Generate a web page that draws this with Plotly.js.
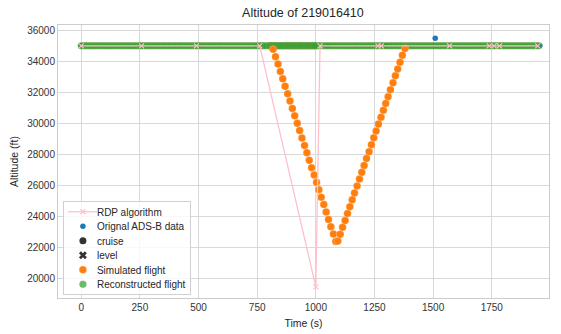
<!DOCTYPE html>
<html>
<head>
<meta charset="utf-8">
<script src="https://cdn.plot.ly/plotly-3.0.1.min.js"></script>
<style>html,body{margin:0;padding:0;background:#fff;}#chart{width:561px;height:334px;}</style>
</head>
<body>
<div id="chart"></div>
<script>
// ---- Data ----
const rdpTime = [0, 257, 491, 761, 1000, 1018, 1265, 1279, 1570, 1739, 1760, 1783, 1946];
const rdpAlt  = [35000, 35000, 35000, 35000, 19450, 35000, 35000, 35000, 35000, 35000, 35000, 35000, 35000];

const adsbTime = [0, 250, 500, 750, 1050, 1300, 1509, 1750, 1955];
const adsbAlt  = [35000, 35000, 35000, 35000, 35000, 35000, 35480, 35000, 35000];

const simTime = [818, 828, 839, 849, 859, 869, 880, 890, 900, 910, 921, 931, 941, 952, 962, 972, 982, 993,
                 1003, 1013, 1023, 1034, 1044, 1054, 1064, 1075, 1085,
                 1094, 1104, 1114, 1125, 1135, 1145, 1155, 1165, 1176, 1186, 1196, 1206, 1216, 1227, 1237,
                 1247, 1257, 1267, 1278, 1288, 1298, 1308, 1318, 1329, 1339, 1349, 1359, 1369, 1380];
const simAlt  = [34770, 34300, 33820, 33340, 32870, 32390, 31910, 31440, 30960, 30480, 30000, 29530, 29050,
                 28570, 28100, 27620, 27140, 26670, 26190, 25710, 25230, 24760, 24280, 23800, 23330, 22850, 22370,
                 22400, 22840, 23290, 23730, 24180, 24620, 25060, 25510, 25950, 26400, 26840, 27280, 27730,
                 28170, 28620, 29060, 29500, 29950, 30390, 30840, 31280, 31720, 32170, 32610, 33060, 33500,
                 33940, 34390, 34830];

const recTime = [0, 10, 20, 30, 40, 50, 60, 70, 80, 90, 100, 110, 120, 130, 140, 150, 160, 170, 180, 190,
                 200, 210, 220, 230, 240, 250, 260, 270, 280, 290, 300, 310, 320, 330, 340, 350, 360, 370, 380, 390,
                 400, 410, 420, 430, 440, 450, 460, 470, 480, 490, 500, 510, 520, 530, 540, 550, 560, 570, 580, 590,
                 600, 610, 620, 630, 640, 650, 660, 670, 680, 690, 700, 710, 720, 730, 740, 750, 760, 770, 780, 790,
                 800, 805, 810, 815, 820, 825, 830, 835, 840, 845, 850, 855, 860, 865, 870, 875, 880, 885, 890, 895,
                 900, 905, 910, 915, 920, 925, 930, 935, 940, 945, 950, 955, 960, 965, 970, 975, 980, 985, 990, 995,
                 1000, 1010, 1020, 1030, 1040, 1050, 1060, 1070, 1080, 1090, 1100, 1110, 1120, 1130, 1140, 1150,
                 1160, 1170, 1180, 1190, 1200, 1210, 1220, 1230, 1240, 1250, 1260, 1270, 1280, 1290, 1300, 1310,
                 1320, 1330, 1340, 1350, 1360, 1370, 1380, 1390, 1400, 1410, 1420, 1430, 1440, 1450, 1460, 1470,
                 1480, 1490, 1500, 1510, 1520, 1530, 1540, 1550, 1560, 1570, 1580, 1590, 1600, 1610, 1620, 1630,
                 1640, 1650, 1660, 1670, 1680, 1690, 1700, 1710, 1720, 1730, 1740, 1750, 1760, 1770, 1780, 1790,
                 1800, 1810, 1820, 1830, 1840, 1850, 1860, 1870, 1880, 1890, 1900, 1910, 1920, 1930, 1940, 1950];
const recAlt = recTime.map(() => 35000);

const xTickVals = [0, 250, 500, 750, 1000, 1250, 1500, 1750];
const yTickVals = [20000, 22000, 24000, 26000, 28000, 30000, 32000, 34000, 36000];

// ---- Traces ----
const traces = [
  {
    name: 'Orignal ADS-B data', x: adsbTime, y: adsbAlt, type: 'scatter', mode: 'markers',
    marker: {color: '#1f77b4', size: 5.5},
    legendrank: 2
  },
  {
    name: 'Reconstructed flight', x: recTime, y: recAlt, type: 'scatter', mode: 'markers',
    marker: {color: 'rgba(44,160,44,0.7)', size: 7, line: {color: 'rgba(185,165,105,0.3)', width: 0.7}},
    legendrank: 6
  },
  {
    name: 'Simulated flight', x: simTime, y: simAlt, type: 'scatter', mode: 'markers',
    marker: {color: '#ff7f0e', size: 7.5, line: {color: 'rgba(255,255,255,0.5)', width: 0.4}},
    legendrank: 5
  },
  {
    name: 'RDP algorithm', x: rdpTime, y: rdpAlt, type: 'scatter', mode: 'lines+markers',
    line: {color: 'pink', width: 1.3},
    marker: {symbol: 'x-thin', size: 5, line: {color: 'pink', width: 1.2}, color: 'pink'},
    legendrank: 1
  },
  {
    name: 'cruise', x: [null], y: [null], type: 'scatter', mode: 'markers',
    marker: {color: '#333333', size: 7}, legendrank: 3
  },
  {
    name: 'level', x: [null], y: [null], type: 'scatter', mode: 'markers',
    marker: {color: '#333333', size: 7, symbol: 'x'}, legendrank: 4
  }
];

const fontFam = 'Liberation Sans, Arial, sans-serif';
const layout = {
  width: 561, height: 334,
  margin: {l: 58, r: 12, t: 25, b: 36, pad: 0},
  paper_bgcolor: '#ffffff', plot_bgcolor: '#ffffff',
  font: {family: fontFam, size: 10, color: '#262626'},
  title: {text: 'Altitude of 219016410', x: 0.54, xanchor: 'center', y: 0.962, yanchor: 'middle',
          font: {family: fontFam, size: 12.5, color: '#262626'}},
  xaxis: {
    range: [-99, 1994], tickvals: xTickVals, ticktext: xTickVals.map(String),
    showgrid: true, gridcolor: '#d9d9d9', gridwidth: 1, zeroline: false,
    showline: true, linecolor: '#cccccc', linewidth: 1, mirror: true, ticks: '',
    tickfont: {size: 10, color: '#333333'},
    title: {text: 'Time (s)', font: {size: 10.5, color: '#262626'}, standoff: 7}
  },
  yaxis: {
    range: [18729, 36342], tickvals: yTickVals, ticktext: yTickVals.map(String),
    showgrid: true, gridcolor: '#d9d9d9', gridwidth: 1, zeroline: false,
    showline: true, linecolor: '#cccccc', linewidth: 1, mirror: true, ticks: '',
    tickfont: {size: 10, color: '#333333'},
    title: {text: 'Altitude (ft)', font: {size: 10.5, color: '#262626'}, standoff: 6}
  },
  legend: {
    x: 0.01, y: 0.015, xanchor: 'left', yanchor: 'bottom',
    bgcolor: 'rgba(255,255,255,0.8)', bordercolor: '#d0d0d0', borderwidth: 1,
    font: {size: 10, color: '#262626'}, itemwidth: 30, traceorder: 'normal'
  },
  showlegend: true
};

Plotly.newPlot('chart', traces, layout, {displayModeBar: false, staticPlot: true}).then(() => {
  // tighten legend rows to match the reference spacing
  const leg = document.querySelector('g.legend');
  if (!leg) return;
  const items = Array.from(leg.querySelectorAll('g.traces')).map(g => {
    const m = /translate\(\s*([-\d.]+)[\s,]+([-\d.]+)\s*\)/.exec(g.getAttribute('transform') || '');
    return {g, x: m ? +m[1] : 0, y: m ? +m[2] : 0};
  }).sort((a, b) => a.y - b.y);
  const step = 14.5;
  const H = items.length * step + 6;
  items.forEach((p, i) => {
    p.g.setAttribute('transform', `translate(${p.x - 1},${3.5 + step / 2 + i * step})`);
    const t = p.g.querySelector('text.legendtext');
    if (t) t.setAttribute('x', (+t.getAttribute('x')) - 6);
  });
  const bg = leg.querySelector('rect.bg');
  if (bg) {
    bg.setAttribute('height', H);
    bg.setAttribute('width', (+bg.getAttribute('width')) - 8);
  }
  const sb = leg.querySelector('g.scrollbox');
  if (sb) sb.removeAttribute('clip-path');
  const m = /translate\(\s*([-\d.]+)[\s,]+([-\d.]+)\s*\)/.exec(leg.getAttribute('transform') || '');
  const lx = m ? +m[1] : 63;
  leg.setAttribute('transform', `translate(${lx},${294 - H})`);
});
</script>
</body>
</html>
